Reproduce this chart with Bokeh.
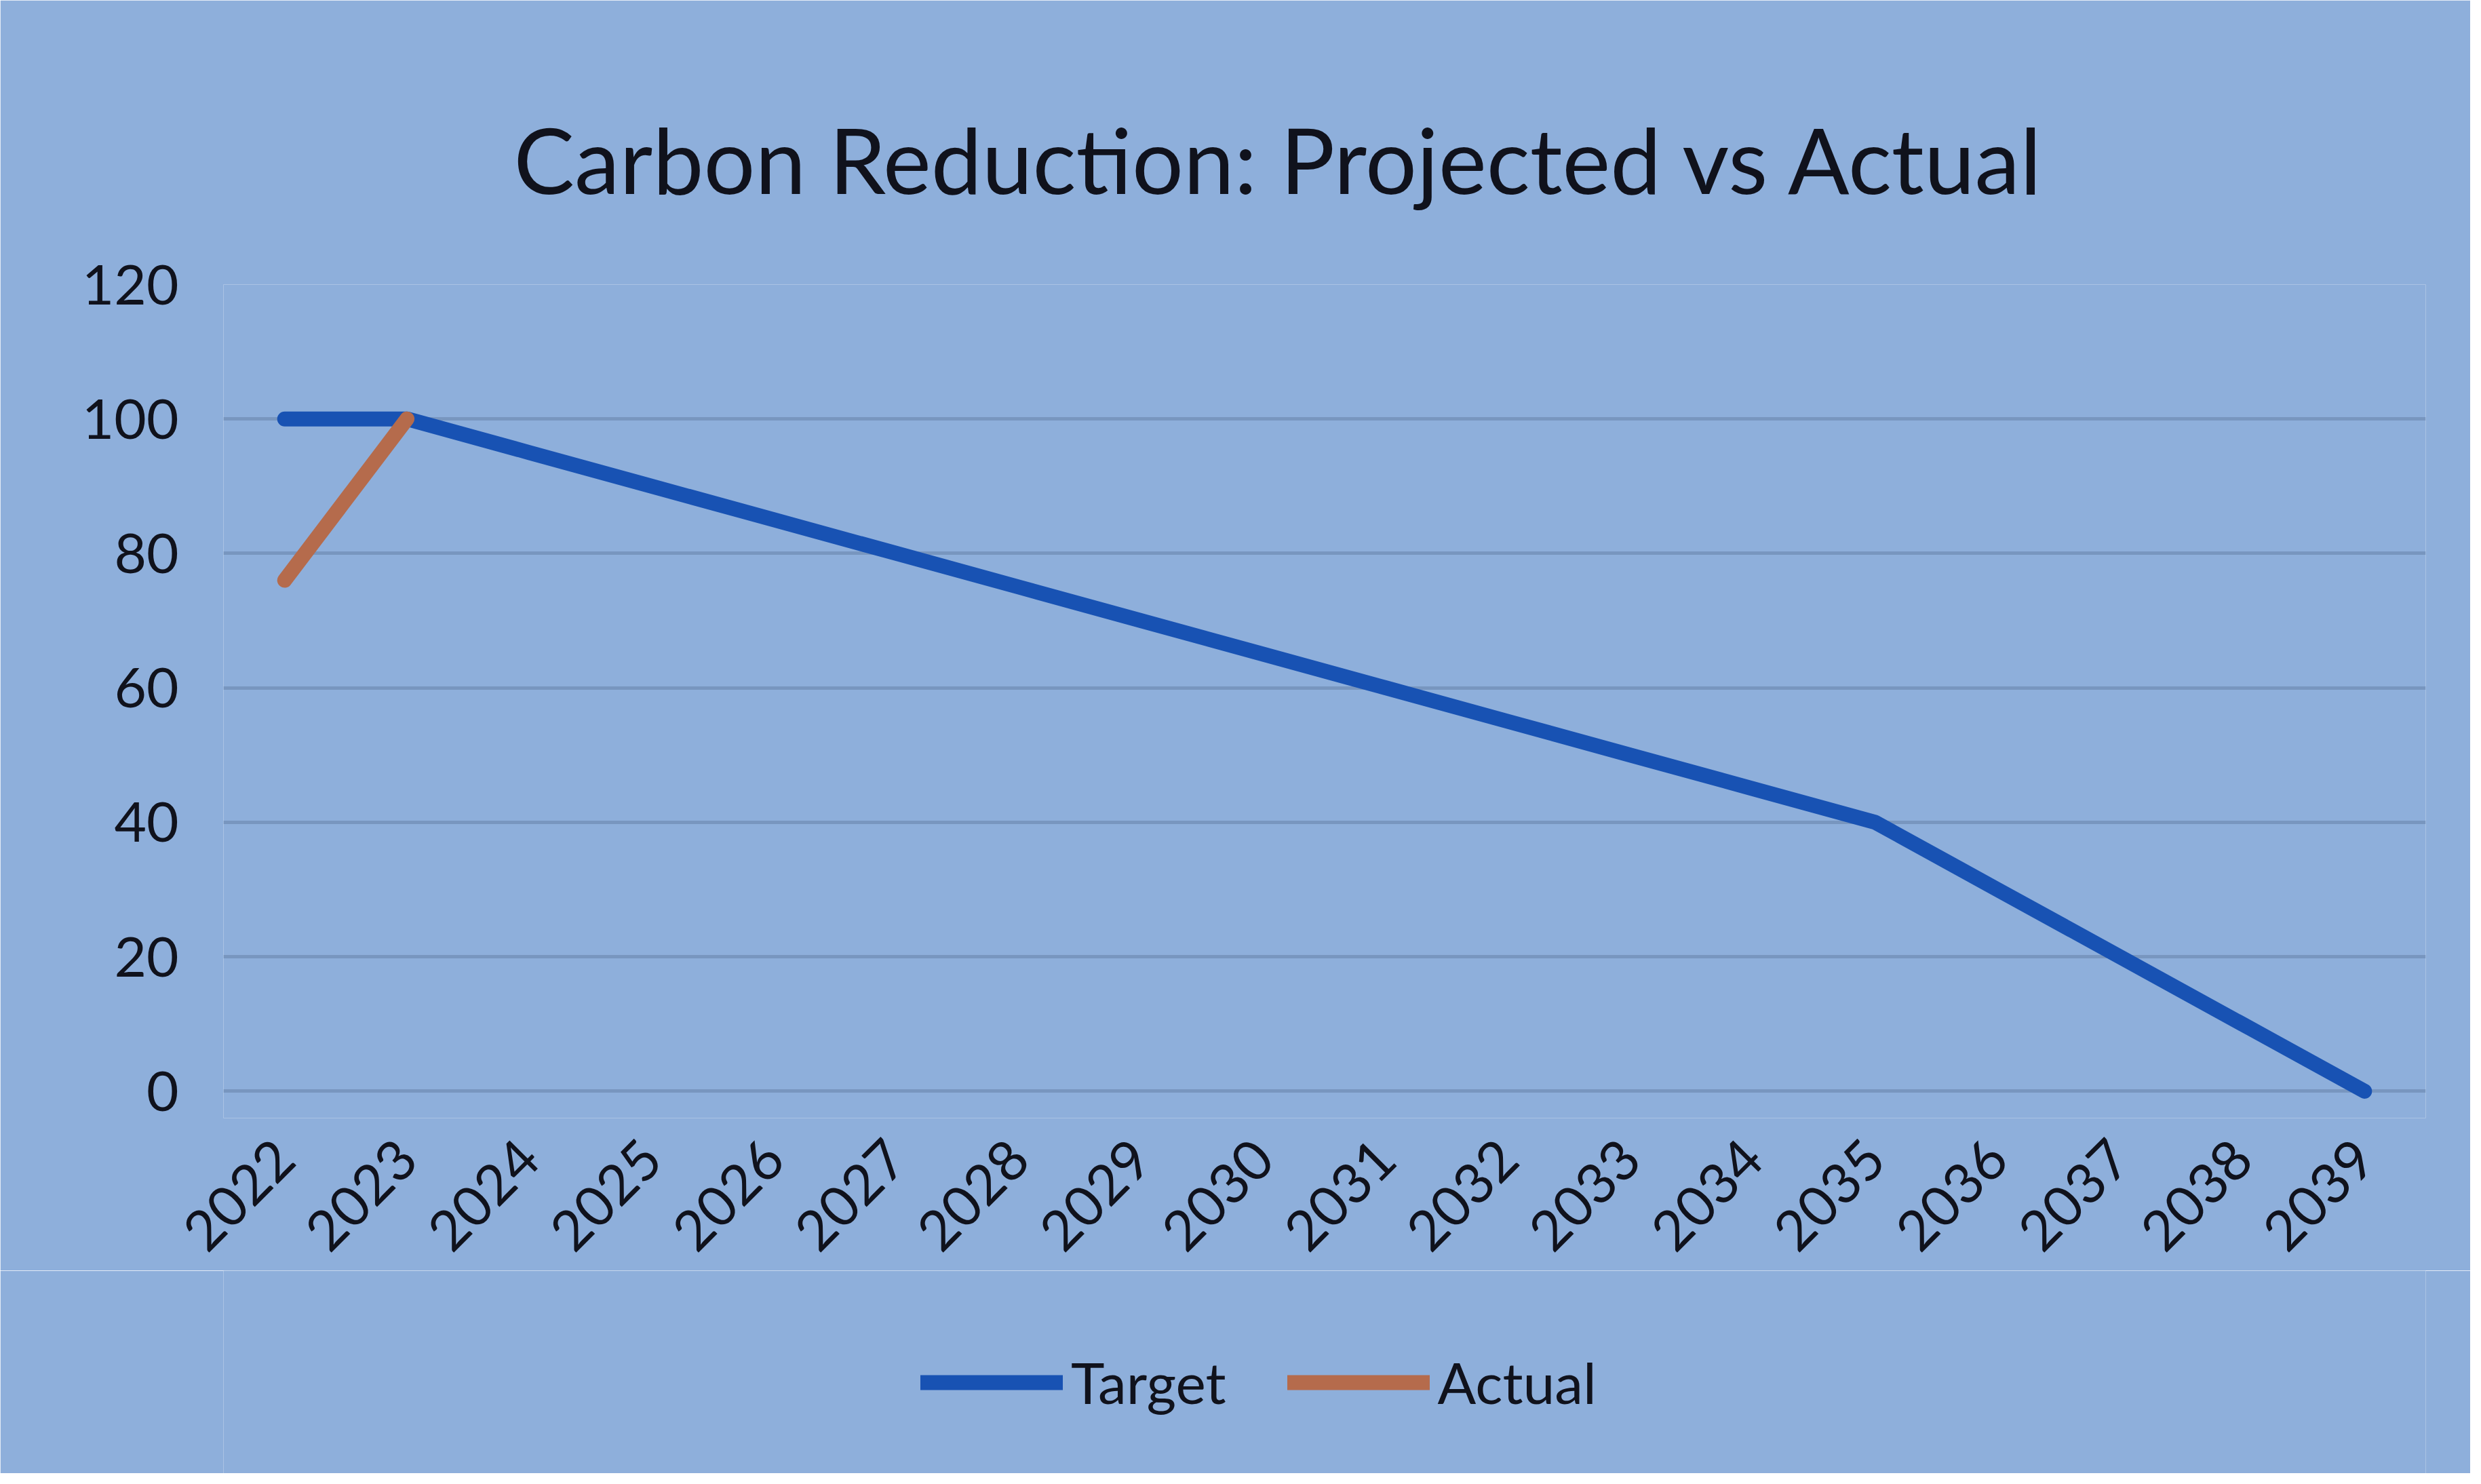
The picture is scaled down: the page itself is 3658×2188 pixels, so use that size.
import math
from bokeh.plotting import figure
from bokeh.layouts import column
from bokeh.models import Range1d, FixedTicker, Legend, LegendItem
from bokeh.embed import file_html
from bokeh.resources import INLINE

years = [str(y) for y in range(2022, 2040)]
target = [100, 100, 95, 90, 85, 80, 75, 70, 65, 60, 55, 50, 45, 40, 30, 20, 10, 0]
actual_years = ["2022", "2023"]
actual = [76, 100]
y_ticks = [0, 20, 40, 60, 80, 100, 120]
series_names = ["Target", "Actual"]
series_colors = ["#1852b3", "#b56b4c"]

BG = "#8eafdb"
FONT = "Lato"
H1 = 1873

p = figure(width=3642, height=H1, x_range=years, y_range=Range1d(-4, 120),
           output_backend="svg", toolbar_location=None,
           min_border_left=329, min_border_right=66, min_border_top=419, min_border_bottom=0)
p.background_fill_color = BG
p.border_fill_color = BG
p.outline_line_color = None

p.title.text = "Carbon Reduction: Projected vs Actual"
p.title.text_font = FONT
p.title.text_font_size = "134px"
p.title.text_font_style = "normal"
p.title.text_color = "#10121c"
p.title.align = "left"
p.title.offset = 428
p.title.standoff = 210

p.line(years, target, line_color=series_colors[0], line_width=22, line_cap="round", line_join="round")
p.line(actual_years, actual, line_color=series_colors[1], line_width=22, line_cap="round", line_join="round")

p.yaxis.ticker = FixedTicker(ticks=y_ticks)
p.ygrid.ticker = FixedTicker(ticks=y_ticks)
p.ygrid.grid_line_color = "#7896bf"
p.ygrid.grid_line_width = 5
p.xgrid.grid_line_color = None

for ax in (p.xaxis, p.yaxis):
    ax.axis_line_color = None
    ax.major_tick_line_color = None
    ax.minor_tick_line_color = None
    ax.major_label_text_font = FONT
    ax.major_label_text_font_size = "82px"
    ax.major_label_text_color = "#10121c"

p.yaxis.major_label_standoff = 60
p.xaxis.major_label_orientation = math.pi / 4
p.xaxis.major_label_standoff = 40

# legend strip below the chart
p2 = figure(width=3642, height=2172 - H1, x_range=Range1d(0, 1), y_range=Range1d(0, 1),
            output_backend="svg", toolbar_location=None,
            min_border_left=0, min_border_right=0, min_border_top=0, min_border_bottom=0,
            x_axis_type=None, y_axis_type=None)
p2.background_fill_color = BG
p2.border_fill_color = BG
p2.outline_line_color = None
p2.grid.visible = False
items = []
for name, col in zip(series_names, series_colors):
    r = p2.line([5, 6], [5, 6], line_color=col, line_width=22, line_cap="round")
    items.append(LegendItem(label=name, renderers=[r]))

legend = Legend(items=items, orientation="horizontal", location=(1028, 84))
legend.background_fill_alpha = 0
legend.border_line_color = None
legend.padding = 0
legend.margin = 0
legend.spacing = 90
legend.glyph_width = 210
legend.glyph_height = 100
legend.label_standoff = 12
legend.label_text_font = FONT
legend.label_text_font_size = "84px"
legend.label_text_color = "#10121c"
legend.label_height = 100
p2.add_layout(legend, "center")

layout = column(p, p2, spacing=0)
open("out.html", "w").write(file_html(layout, INLINE))
